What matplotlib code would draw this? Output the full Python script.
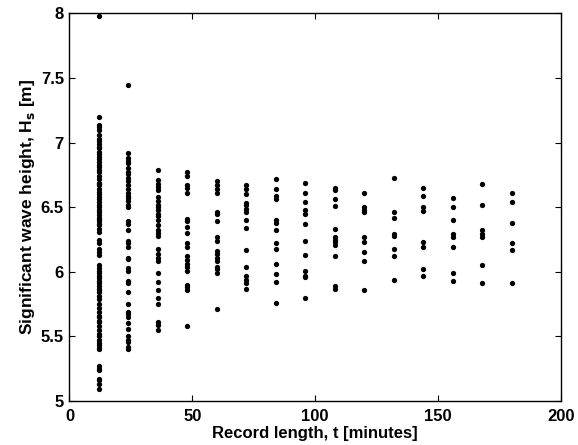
import numpy as np
import matplotlib.pyplot as plt

plt.rcParams['font.family'] = ['Liberation Sans', 'DejaVu Sans']
plt.rcParams['font.weight'] = 'bold'
plt.rcParams['mathtext.default'] = 'bf'

# Record lengths (minutes) and significant wave heights (m)
t_12 = [7.98, 7.20, 7.14, 7.12, 7.10, 7.06, 7.03, 7.01, 6.99, 6.97, 6.96, 6.93, 6.91,
        6.89, 6.87, 6.85, 6.83, 6.81, 6.79, 6.77, 6.74, 6.72, 6.69, 6.68, 6.67, 6.64,
        6.62, 6.60, 6.58, 6.56, 6.54, 6.52, 6.50, 6.48, 6.46, 6.44, 6.42, 6.41, 6.39,
        6.37, 6.36, 6.33, 6.31, 6.25, 6.22, 6.18, 6.15, 6.13, 6.05, 6.03, 6.01, 5.99,
        5.97, 5.95, 5.93, 5.91, 5.89, 5.87, 5.86, 5.84, 5.81, 5.79, 5.75, 5.72, 5.69,
        5.66, 5.65, 5.62, 5.61, 5.58, 5.55, 5.52, 5.50, 5.47, 5.45, 5.43, 5.41, 5.40,
        5.27, 5.25, 5.24, 5.17, 5.16, 5.13, 5.09]
t_24 = [7.45, 6.92, 6.88, 6.86, 6.84, 6.80, 6.77, 6.76, 6.73, 6.70, 6.67, 6.64, 6.61,
        6.59, 6.57, 6.55, 6.52, 6.50, 6.39, 6.37, 6.32, 6.24, 6.22, 6.19, 6.11, 6.10,
        6.03, 6.01, 5.93, 5.91, 5.84, 5.75, 5.69, 5.67, 5.65, 5.60, 5.56, 5.50, 5.47,
        5.46, 5.42, 5.40]
t_36 = [6.79, 6.71, 6.68, 6.66, 6.63, 6.58, 6.55, 6.52, 6.50, 6.48, 6.45, 6.43, 6.40,
        6.36, 6.32, 6.30, 6.28, 6.18, 6.14, 6.11, 6.08, 5.99, 5.92, 5.86, 5.80, 5.75,
        5.61, 5.59, 5.55]
t_48 = [6.77, 6.74, 6.67, 6.65, 6.61, 6.41, 6.39, 6.35, 6.30, 6.22, 6.19, 6.12, 6.09,
        6.06, 6.04, 6.01, 5.90, 5.88, 5.86, 5.58]
t_60 = [6.70, 6.67, 6.64, 6.61, 6.46, 6.45, 6.39, 6.27, 6.24, 6.16, 6.14, 6.11, 6.08,
        6.04, 6.02, 5.99, 5.71]
t_72 = [6.67, 6.64, 6.60, 6.53, 6.52, 6.49, 6.46, 6.40, 6.34, 6.17, 6.04, 5.97, 5.94,
        5.91, 5.87]
t_84 = [6.72, 6.64, 6.59, 6.56, 6.40, 6.38, 6.32, 6.22, 6.18, 6.06, 5.98, 5.92, 5.76]
t_96 = [6.69, 6.61, 6.54, 6.48, 6.45, 6.37, 6.24, 6.13, 6.01, 5.97, 5.96, 5.80]
t_108 = [6.65, 6.63, 6.56, 6.51, 6.33, 6.27, 6.25, 6.23, 6.21, 6.12, 5.89, 5.87]
t_120 = [6.61, 6.50, 6.48, 6.46, 6.27, 6.23, 6.15, 6.08, 5.86]
t_132 = [6.73, 6.46, 6.42, 6.29, 6.28, 6.18, 6.12, 5.94]
t_144 = [6.65, 6.59, 6.50, 6.47, 6.23, 6.19, 6.02, 5.97]
t_156 = [6.57, 6.50, 6.40, 6.29, 6.27, 6.19, 5.99, 5.93]
t_168 = [6.68, 6.52, 6.32, 6.29, 6.27, 6.05, 5.91]
t_180 = [6.61, 6.54, 6.38, 6.22, 6.17, 5.91]

record_lengths = [12, 24, 36, 48, 60, 72, 84, 96, 108, 120, 132, 144, 156, 168, 180]
heights = [t_12, t_24, t_36, t_48, t_60, t_72, t_84, t_96, t_108, t_120,
           t_132, t_144, t_156, t_168, t_180]

x_ticks = [0, 50, 100, 150, 200]
y_ticks = [5, 5.5, 6, 6.5, 7, 7.5, 8]
y_tick_labels = ['5', '5.5', '6', '6.5', '7', '7.5', '8']

fig = plt.figure(figsize=(5.78, 4.45), dpi=100)
ax = fig.add_axes([0.1202, 0.0989, 0.850, 0.8708])

for t, hs in zip(record_lengths, heights):
    ax.plot(np.full(len(hs), t), hs, 'o', color='black', markersize=3.8,
            markeredgewidth=0)

ax.set_xlim(0, 200)
ax.set_ylim(5, 8)
ax.set_xticks(x_ticks)
ax.set_xticklabels([str(v) for v in x_ticks])
ax.set_yticks(y_ticks)
ax.set_yticklabels(y_tick_labels)
ax.tick_params(direction='in', top=True, right=True, length=4, width=0.8,
               labelsize=12)
ax.tick_params(axis='x', pad=6)
ax.tick_params(axis='y', pad=4)
for s in ax.spines.values():
    s.set_linewidth(1.0)

ax.set_xlabel('Record length, t [minutes]', fontsize=12, fontweight='bold', labelpad=1)
ax.set_ylabel(r'Significant wave height, H$_{\mathbf{s}}$ [m]', fontsize=12.5,
              fontweight='bold', labelpad=3)

fig.savefig('out.png', dpi=100)
